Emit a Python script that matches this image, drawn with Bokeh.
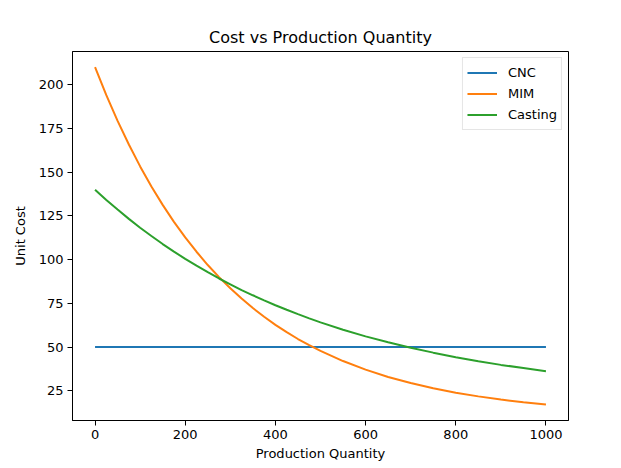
from bokeh.plotting import figure
from bokeh.models import Range1d, Legend, LegendItem, FixedTicker
from bokeh.embed import file_html
from bokeh.resources import INLINE

quantity = [0, 25, 50, 75, 100, 125, 150, 175, 200, 225, 250, 275, 300, 325,
            350, 375, 400, 425, 450, 475, 500,
            550, 600, 650, 700, 750, 800, 850, 900, 950, 1000]
cnc = [50.0] * 31
mim = [210.0, 194.0, 179.3, 165.8, 153.3, 141.8, 131.3, 121.6, 112.7, 104.5,
       96.9, 90.0, 83.6, 77.7, 72.3, 67.3, 62.7, 58.5, 54.6, 51.1, 47.8,
       42.0, 37.1, 32.9, 29.4, 26.4, 23.9, 21.8, 20.0, 18.4, 17.1]
casting = [140.0, 134.1, 128.6, 123.3, 118.2, 113.5, 108.9, 104.6, 100.4, 96.5,
           92.8, 89.2, 85.9, 82.6, 79.6, 76.7, 73.9, 71.3, 68.8, 66.4, 64.1,
           59.9, 56.1, 52.7, 49.6, 46.8, 44.2, 41.9, 39.8, 38.0, 36.2]
x_ticks = [0, 200, 400, 600, 800, 1000]
y_ticks = [25, 50, 75, 100, 125, 150, 175, 200]

FONT = "DejaVu Sans"

p = figure(width=613, height=460, frame_width=496, frame_height=369,
           output_backend="svg", toolbar_location=None,
           x_range=Range1d(-50, 1050), y_range=Range1d(8.0, 219.0),
           min_border_left=72, min_border_right=45, min_border_top=51, min_border_bottom=40)

p.title.text = "Cost vs Production Quantity"
p.title.align = "center"
p.title.text_font = FONT
p.title.text_font_size = "16px"
p.title.text_font_style = "normal"
p.title.text_color = "black"
p.title.standoff = 10

p.xgrid.visible = False
p.ygrid.visible = False
p.outline_line_color = "black"
p.outline_line_width = 1
p.outline_line_alpha = 1.0

for ax in (p.xaxis[0], p.yaxis[0]):
    ax.major_tick_out = 5
    ax.major_tick_in = 0
    ax.minor_tick_out = 0
    ax.minor_tick_in = 0
    ax.axis_line_color = "black"
    ax.major_tick_line_color = "black"
    ax.major_label_text_font = FONT
    ax.major_label_text_font_size = "13px"
    ax.major_label_text_color = "black"
    ax.axis_label_text_font = FONT
    ax.axis_label_text_font_size = "13px"
    ax.axis_label_text_font_style = "normal"
    ax.axis_label_text_color = "black"

p.xaxis.ticker = FixedTicker(ticks=x_ticks)
p.yaxis.ticker = FixedTicker(ticks=y_ticks)
p.xaxis.axis_label = "Production Quantity"
p.yaxis.axis_label = "Unit Cost"
p.xaxis.major_label_standoff = 4
p.yaxis.major_label_standoff = 4
p.xaxis.axis_label_standoff = 4
p.yaxis.axis_label_standoff = 8

r1 = p.line(quantity, cnc, line_color="#1f77b4", line_width=2)
r2 = p.line(quantity, mim, line_color="#ff7f0e", line_width=2)
r3 = p.line(quantity, casting, line_color="#2ca02c", line_width=2)

legend = Legend(items=[LegendItem(label="CNC", renderers=[r1]),
                       LegendItem(label="MIM", renderers=[r2]),
                       LegendItem(label="Casting", renderers=[r3])],
                location="top_right")
legend.label_text_font = FONT
legend.label_text_font_size = "13px"
legend.label_text_color = "black"
legend.glyph_width = 30
legend.glyph_height = 21
legend.label_height = 21
legend.label_standoff = 11
legend.spacing = 0
legend.padding = 4
legend.margin = 6
legend.border_line_color = "#cccccc"
legend.border_line_width = 1
legend.background_fill_alpha = 0.8
p.add_layout(legend)

open("out.html", "w").write(file_html(p, INLINE))
